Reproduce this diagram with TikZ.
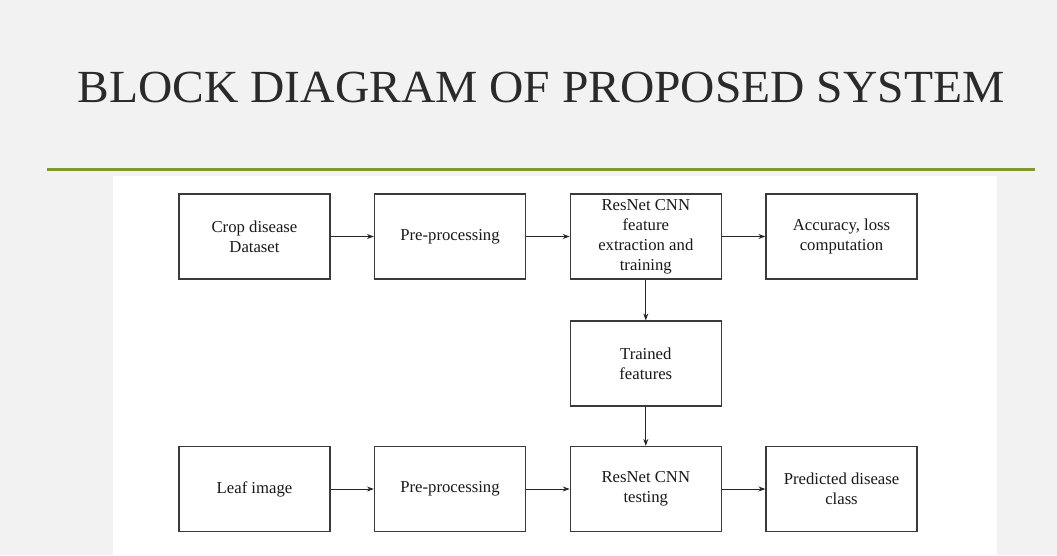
\documentclass[tikz,border=0pt]{standalone}
\usepackage{fontspec}
\setmainfont{Liberation Serif}
\usetikzlibrary{arrows.meta}
\definecolor{slidebg}{HTML}{F2F2F2}
\definecolor{rulegreen}{HTML}{7F9A2A}
\definecolor{boxline}{HTML}{3A3A3A}
\definecolor{titlecol}{HTML}{2A2A2A}
\tikzset{
  blk/.style={draw=boxline, line width=1.2pt, fill=white, minimum width=151pt, minimum height=85pt,
    inner sep=0pt, align=center, text=black!90, font=\fontsize{16.7}{20}\selectfont},
  conn/.style={draw=black!85, line width=1pt, -{Stealth[length=7pt,width=5pt]}}
}
\begin{document}
\begin{tikzpicture}[x=1pt,y=-1pt]
\useasboundingbox (0,0) rectangle (1057,555);
\fill[slidebg] (0,0) rectangle (1057,555);
\fill[white] (113,176) rectangle (997,555);
\draw[rulegreen, line width=2.2pt] (47,169.5) -- (1035,169.5);
\node[text=titlecol, inner sep=0pt, anchor=base west, font=\fontsize{46}{50}\selectfont, xscale=1.033] (title) at (77.5,102.3) {BLOCK DIAGRAM OF PROPOSED SYSTEM};
% row 1
\node[blk] (b1) at (254.5,236.5) {Crop disease\\Dataset};
\node[blk] (b2) at (450,236.5) {Pre-processing};
\node[blk] (b3) at (645.8,236.5) {ResNet CNN\\feature\\extraction and\\training};
\node[blk] (b4) at (841.5,236.5) {Accuracy, loss\\computation};
% row 2
\node[blk] (b5) at (645.8,363.5) {Trained\\features};
% row 3
\node[blk] (b6) at (254.5,489) {Leaf image};
\node[blk] (b7) at (450,489) {Pre-processing};
\node[blk] (b8) at (645.8,489) {ResNet CNN\\testing};
\node[blk] (b9) at (841.5,489) {Predicted disease\\class};
% connectors
\draw[conn] (b1) -- (b2);
\draw[conn] (b2) -- (b3);
\draw[conn] (b3) -- (b4);
\draw[conn] (b3) -- (b5);
\draw[conn] (b5) -- (b8);
\draw[conn] (b6) -- (b7);
\draw[conn] (b7) -- (b8);
\draw[conn] (b8) -- (b9);
\end{tikzpicture}
\end{document}
